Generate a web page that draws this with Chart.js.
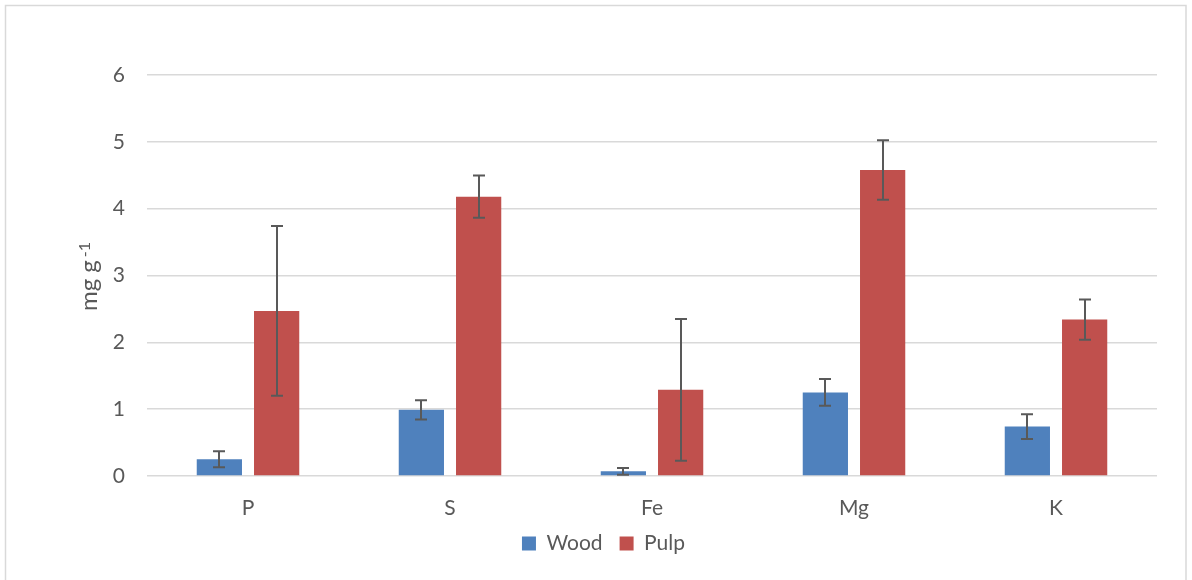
<!DOCTYPE html>
<html>
<head>
<meta charset="utf-8">
<script src="https://cdn.jsdelivr.net/npm/chart.js@4"></script>
<style>
  html, body { margin: 0; padding: 0; background: #ffffff; }
  #wrap { width: 1192px; height: 580px; position: relative; }
  canvas { display: block; }
</style>
</head>
<body>
<div id="wrap"><canvas id="c" width="1192" height="580"></canvas></div>
<script>
// ---- data ----
const categories = ['P', 'S', 'Fe', 'Mg', 'K'];
const seriesNames = ['Wood', 'Pulp'];
const woodValues = [0.25, 0.99, 0.07, 1.25, 0.74];
const woodErrors = [0.12, 0.145, 0.05, 0.2, 0.185];
const pulpValues = [2.47, 4.18, 1.29, 4.58, 2.34];
const pulpErrors = [1.27, 0.317, 1.06, 0.445, 0.3];
const yTicks = [0, 1, 2, 3, 4, 5, 6];
const yTitleMain = 'mg g';
const yTitleSup = '-1';

const FONT = 'Lato, "Open Sans", sans-serif';
const TEXT = '#595959';
const GRID = '#d9d9d9';
const BLUE = '#4f81bd';
const RED = '#c0504d';

const errorLists = [woodErrors, pulpErrors];

const frame = {
  id: 'frame',
  beforeDraw(chart) {
    const ctx = chart.ctx;
    ctx.save();
    ctx.fillStyle = '#ffffff';
    ctx.fillRect(0, 0, chart.width, chart.height);
    ctx.strokeStyle = GRID;
    ctx.lineWidth = 1.5;
    ctx.strokeRect(5.5, 5.5, chart.width - 11.5, chart.height + 20);
    ctx.restore();
  }
};

// move the legend a little closer to the axis labels
const legendShift = {
  id: 'legendShift',
  afterLayout(chart) {
    const l = chart.legend;
    if (l) { l.top -= 8; l.bottom -= 8; }
  }
};

const errorBars = {
  id: 'errorBars',
  afterDatasetsDraw(chart) {
    const ctx = chart.ctx;
    const yScale = chart.scales.y;
    ctx.save();
    ctx.strokeStyle = '#595959';
    ctx.lineWidth = 2;
    chart.data.datasets.forEach((ds, i) => {
      const meta = chart.getDatasetMeta(i);
      const errs = errorLists[i];
      meta.data.forEach((bar, j) => {
        const v = ds.data[j], e = errs[j];
        const x = Math.round(bar.x);
        const yTop = yScale.getPixelForValue(v + e);
        const yBot = yScale.getPixelForValue(v - e);
        const cap = 6;
        ctx.beginPath();
        ctx.moveTo(x, yTop); ctx.lineTo(x, yBot);
        ctx.moveTo(x - cap, yTop); ctx.lineTo(x + cap, yTop);
        ctx.moveTo(x - cap, yBot); ctx.lineTo(x + cap, yBot);
        ctx.stroke();
      });
    });
    ctx.restore();
  }
};

const yTitle = {
  id: 'yTitle',
  afterDraw(chart) {
    const ctx = chart.ctx;
    const area = chart.chartArea;
    const cy = (area.top + area.bottom) / 2 + 1;
    ctx.save();
    ctx.translate(97, cy);
    ctx.rotate(-Math.PI / 2);
    ctx.fillStyle = TEXT;
    ctx.textBaseline = 'alphabetic';
    ctx.textAlign = 'left';
    const mainFont = '24px ' + FONT;
    const supFont = '16px ' + FONT;
    const gap = 3;
    ctx.font = mainFont;
    const w1 = ctx.measureText(yTitleMain).width;
    ctx.font = supFont;
    const w2 = ctx.measureText(yTitleSup).width;
    const total = w1 + gap + w2;
    const x0 = -total / 2;
    ctx.font = mainFont;
    ctx.fillText(yTitleMain, x0, 0);
    ctx.font = supFont;
    ctx.fillText(yTitleSup, x0 + w1 + gap, -7);
    ctx.restore();
  }
};

new Chart(document.getElementById('c'), {
  type: 'bar',
  data: {
    labels: categories,
    datasets: [
      { label: seriesNames[0], data: woodValues, backgroundColor: BLUE, borderWidth: 0 },
      { label: seriesNames[1], data: pulpValues, backgroundColor: RED, borderWidth: 0 }
    ]
  },
  options: {
    responsive: false,
    devicePixelRatio: 1,
    animation: false,
    layout: { padding: { left: 50, right: 35, top: 75, bottom: 8 } },
    datasets: { bar: { categoryPercentage: 0.567, barPercentage: 0.79 } },
    scales: {
      x: {
        afterFit(s) { s.height = 48; },
        grid: { display: false, drawTicks: false },
        border: { display: false },
        ticks: { color: TEXT, font: { family: FONT, size: 21, lineHeight: 1 }, padding: 22 }
      },
      y: {
        min: 0, max: 6,
        afterFit(s) { s.width = 97; },
        afterBuildTicks(s) { s.ticks = yTicks.map(v => ({ value: v })); },
        grid: { color: GRID, lineWidth: 1.5, drawTicks: false },
        border: { display: false },
        ticks: { color: TEXT, font: { family: FONT, size: 21 }, padding: 22 }
      }
    },
    plugins: {
      legend: {
        position: 'bottom',
        labels: {
          color: TEXT,
          font: { family: FONT, size: 21 },
          boxWidth: 14, boxHeight: 14,
          padding: 17
        }
      },
      tooltip: { enabled: false },
      title: { display: false }
    }
  },
  plugins: [frame, legendShift, errorBars, yTitle]
});
</script>
</body>
</html>
